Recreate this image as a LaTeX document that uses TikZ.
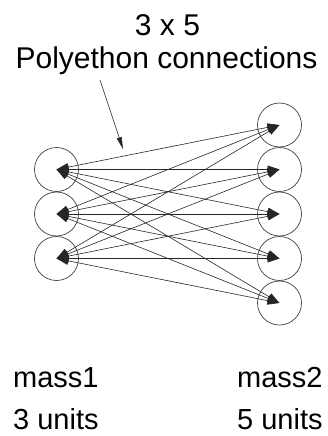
\documentclass[tikz,border=0pt]{standalone}
\usepackage{fontspec}
\setmainfont{Liberation Sans}
\usetikzlibrary{arrows.meta}
\begin{document}
\begin{tikzpicture}[x=1pt,y=-1pt,
  unit/.style={circle,draw=black!75,line width=0.7pt,minimum size=44pt,inner sep=0pt},
  link/.style={{Triangle[length=12pt,width=8pt]}-{Triangle[length=12pt,width=8pt]},draw=black!85,line width=0.6pt},
  pointer/.style={-{Triangle[length=12pt,width=5pt]},draw=black!85,line width=0.6pt},
  bigtext/.style={font=\fontsize{30}{36}\selectfont,inner sep=0pt},
  label/.style={font=\fontsize{29}{35}\selectfont,inner sep=0pt,anchor=base west}]
\useasboundingbox (0,0) rectangle (328,436);

% title
\node[bigtext,anchor=base] (count) at (167.5,36) {3 x 5};
\node[bigtext,anchor=base] (title) at (166.5,68) {Polyethon connections};

% the two masses
\node[unit] (l1) at (56.5,169.5) {};
\node[unit] (l2) at (56.5,214) {};
\node[unit] (l3) at (56.5,258.5) {};
\node[unit] (r1) at (279.5,125) {};
\node[unit] (r2) at (279.5,169.5) {};
\node[unit] (r3) at (279.5,214) {};
\node[unit] (r4) at (279.5,258.5) {};
\node[unit] (r5) at (279.5,303) {};

% every unit of mass1 linked to every unit of mass2
\foreach \a in {1,2,3}{
  \foreach \b in {1,...,5}{
    \draw[link] (l\a.center) -- (r\b.center);
  }
}

% pointer from the title to the links
\coordinate (ptr) at (100,80);
\coordinate (ptrtip) at (123,149);
\draw[pointer] (ptr) -- (ptrtip);

% labels
\node[label] (m1) at (13,387) {mass1};
\node[label] (u1) at (13,429) {3 units};
\node[label] (m2) at (237,387) {mass2};
\node[label] (u2) at (237,429) {5 units};
\end{tikzpicture}
\end{document}
